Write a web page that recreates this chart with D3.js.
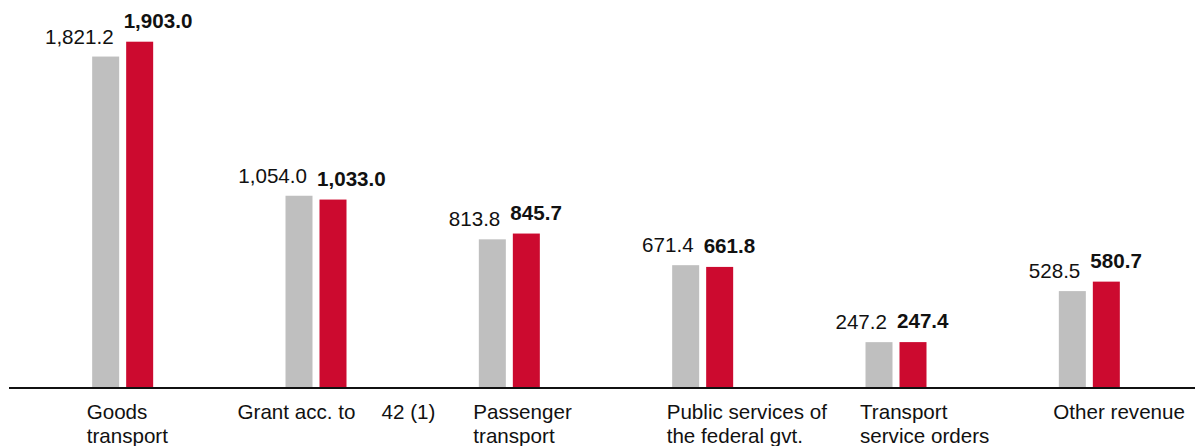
<!DOCTYPE html>
<html>
<head>
<meta charset="utf-8">
<script src="https://cdn.jsdelivr.net/npm/d3@7"></script>
<style>
  html, body { margin: 0; padding: 0; background: #fff; }
  svg { display: block; }
  text { font-family: "Liberation Sans", Arial, sans-serif; fill: #111; }
</style>
</head>
<body>
<svg id="chart" width="1195" height="446"></svg>
<script>
// Revenue by segment, prior year vs. current year
const categories = [
  "Goods transport",
  "Grant acc. to 42 (1)",
  "Passenger transport",
  "Public services of the federal gvt.",
  "Transport service orders",
  "Other revenue"
];
// Wrapped label lines under each group
const categoryLines = [
  ["Goods", "transport"],
  ["Grant acc. to", "42 (1)"],
  ["Passenger", "transport"],
  ["Public services of", "the federal gvt."],
  ["Transport", "service orders"],
  ["Other revenue"]
];
const priorValues   = [1821.2, 1054.0, 813.8, 671.4, 247.2, 528.5];
const currentValues = [1903.0, 1033.0, 845.7, 661.8, 247.4, 580.7];
const seriesKeys = ["prior", "current"];

const W = 1195, H = 446;
const baseline = 387;
const fontSize = 20.6;
const svg = d3.select("#chart");

const x = d3.scaleBand().domain(categories).range([26, 1186]).padding(0);
const inner = d3.scaleBand().domain(seriesKeys).range([-30.5, 30.5]).paddingInner(7 / 34);
const y = d3.scaleLinear().domain([0, 1903.0]).range([baseline, 41.7]);

const colors = { prior: "#bfbfbf", current: "#cc0a2f" };
const fmt = d3.format(",.1f");

const rows = categories.map((c, i) => ({
  cat: c,
  lines: categoryLines[i],
  prior: priorValues[i],
  current: currentValues[i]
}));

const groups = svg.selectAll("g.grp").data(rows).join("g")
  .attr("class", "grp")
  .attr("transform", d => `translate(${x(d.cat) + x.bandwidth() / 2},0)`);

// bars
groups.selectAll("rect").data(d => seriesKeys.map(k => ({ k, v: d[k] }))).join("rect")
  .attr("x", d => inner(d.k))
  .attr("width", inner.bandwidth())
  .attr("y", d => y(d.v))
  .attr("height", d => baseline - y(d.v))
  .attr("fill", d => colors[d.k]);

// value labels: prior set right-aligned, current set left-aligned in bold
groups.append("text")
  .attr("x", -9)
  .attr("y", d => y(d.prior) - 13)
  .attr("text-anchor", "end")
  .attr("font-size", fontSize)
  .text(d => fmt(d.prior));

groups.append("text")
  .attr("x", 1)
  .attr("y", d => y(d.current) - 14)
  .attr("text-anchor", "start")
  .attr("font-size", fontSize)
  .attr("font-weight", "bold")
  .text(d => fmt(d.current));

// axis line
svg.append("line")
  .attr("x1", 9).attr("x2", W)
  .attr("y1", baseline + 1).attr("y2", baseline + 1)
  .attr("stroke", "#111").attr("stroke-width", 2);

// category labels
groups.each(function (d, i) {
  const g = d3.select(this);
  if (i === 1) {
    g.append("text").attr("x", -78.5).attr("y", 419).attr("font-size", fontSize).text(d.lines[0]);
    g.append("text").attr("x", 65.5).attr("y", 419).attr("font-size", fontSize).text(d.lines[1]);
  } else {
    d.lines.forEach((ln, j) => {
      g.append("text")
        .attr("x", -36)
        .attr("y", 419 + j * 23.5)
        .attr("font-size", fontSize)
        .text(ln);
    });
  }
});
</script>
</body>
</html>
